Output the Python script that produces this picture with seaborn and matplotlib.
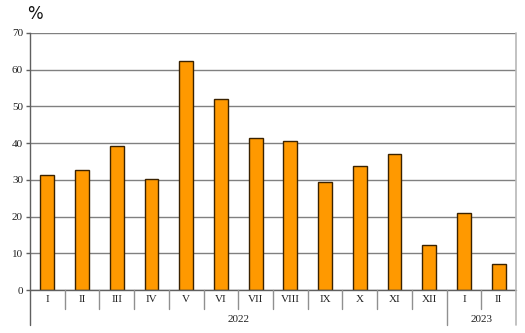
import matplotlib
matplotlib.use("Agg")
import matplotlib.pyplot as plt
import seaborn as sns
import pandas as pd
from matplotlib.lines import Line2D

months = ["I", "II", "III", "IV", "V", "VI", "VII", "VIII", "IX", "X", "XI", "XII", "I", "II"]
years = ["2022"] * 12 + ["2023"] * 2
values = [31.4, 32.7, 39.2, 30.2, 62.4, 51.9, 41.4, 40.6, 29.4, 33.8, 37.1, 12.2, 21.0, 7.2]
yticks = [0, 10, 20, 30, 40, 50, 60, 70]

keys = [f"{m}-{y}" for m, y in zip(months, years)]
df = pd.DataFrame({"key": keys, "value": values})

sns.set_theme(style="white")
plt.rcParams["font.family"] = ["Liberation Serif", "DejaVu Serif"]

W, H = 525, 333
fig = plt.figure(figsize=(W / 100, H / 100), dpi=100)
L, R, T, B = 30, 516, 33, 290
ax = fig.add_axes([L / W, (H - B) / H, (R - L) / W, (B - T) / H])

sns.barplot(data=df, x="key", y="value", order=keys, color="#FF9900",
            width=0.4, edgecolor="#3a2200", linewidth=1.0, saturation=1, ax=ax)

FS = 8
ax.set_ylim(0, 70)
ax.set_xlim(-0.5, len(keys) - 0.5)
ax.set_yticks(yticks)
ax.set_yticklabels([str(v) for v in yticks], fontsize=FS, color="#222222")
ax.yaxis.grid(True, color="#808080", linewidth=1.0)
ax.set_axisbelow(True)
ax.tick_params(axis="y", which="both", left=True, length=3, width=1, color="#606060", pad=2)
ax.tick_params(axis="x", bottom=False, labelbottom=False)
ax.set_xlabel("")
ax.set_ylabel("")
for s in ["top", "right", "bottom"]:
    ax.spines[s].set_visible(False)
ax.spines["left"].set_color("#606060")
ax.spines["left"].set_linewidth(1.0)

ah = B - T
trans = ax.get_xaxis_transform()
# bottom axis line
ax.add_line(Line2D([-0.5, len(keys) - 0.5], [0, 0], transform=trans, color="#606060",
                   linewidth=1.0, clip_on=False))
# month labels
for i, m in enumerate(months):
    ax.text(i, -10 / ah, m, transform=trans, ha="center", va="center", fontsize=FS, color="#222222")
# month dividers
for i in range(1, len(keys)):
    if years[i] != years[i - 1]:
        continue
    ax.add_line(Line2D([i - 0.5, i - 0.5], [0, -19 / ah], transform=trans, color="#909090",
                       linewidth=1.0, clip_on=False))
# year separators
bounds = [-0.5] + [i - 0.5 for i in range(1, len(keys)) if years[i] != years[i - 1]]
for x in bounds:
    ax.add_line(Line2D([x, x], [0, -35 / ah], transform=trans,
                       color="#606060" if x == -0.5 else "#909090", linewidth=1.0, clip_on=False))
# right border
ax.add_line(Line2D([len(keys) - 0.5] * 2, [1, -35 / ah], transform=trans, color="#b8b8b8",
                   linewidth=1.2, clip_on=False))
# year labels
uniq = []
for y in years:
    if y not in uniq:
        uniq.append(y)
for y in uniq:
    idx = [i for i, yy in enumerate(years) if yy == y]
    ax.text((idx[0] + idx[-1]) / 2, -29 / ah, y, transform=trans, ha="center", va="center",
            fontsize=FS, color="#222222")

fig.text(27 / W, 1 - 14 / H, "%", ha="left", va="center", fontsize=12,
         family=["DejaVu Sans"], color="#111111")

fig.savefig("out.png", dpi=100)
